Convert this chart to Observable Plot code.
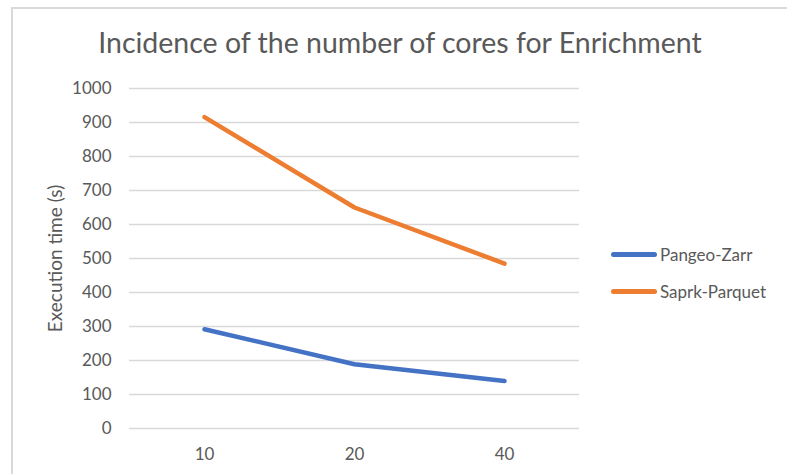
<!DOCTYPE html>
<html>
<head>
<meta charset="utf-8">
<script src="https://cdn.jsdelivr.net/npm/d3@7"></script>
<script src="https://cdn.jsdelivr.net/npm/@observablehq/plot@0.6"></script>
<style>
  html, body { margin: 0; padding: 0; background: #fff; }
  #wrap { position: relative; width: 787px; height: 474px; overflow: hidden; font-family: Lato, "Open Sans", sans-serif; color: #595959; }
  #frame { position: absolute; left: 11px; top: 7px; width: 800px; height: 500px; border-left: 2px solid #D9D9D9; border-top: 2px solid #D9D9D9; box-sizing: border-box; }
  #chart { position: absolute; left: 0; top: 0; }
  #title { position: absolute; left: 0; width: 800px; top: 25px; text-align: center; font-size: 28.5px; line-height: 34px; color: #595959; }
  .leg { position: absolute; left: 611px; display: flex; align-items: center; font-size: 17px; }
  .leg .sw { width: 46px; height: 5px; border-radius: 3px; margin-right: 3px; }
</style>
</head>
<body>
<div id="wrap">
  <div id="frame"></div>
  <div id="chart"></div>
  <div id="title">Incidence of the number of cores for Enrichment</div>
  <div id="legend"></div>
</div>
<script>
const cores = ["10", "20", "40"];
const seriesNames = ["Pangeo-Zarr", "Saprk-Parquet"];
const pangeoZarr = [292, 189, 140];
const saprkParquet = [916, 650, 485];
const colors = ["#4472C4", "#ED7D31"];
const yTicks = [0, 100, 200, 300, 400, 500, 600, 700, 800, 900, 1000];

const data = [];
[pangeoZarr, saprkParquet].forEach((vals, s) => {
  vals.forEach((v, i) => data.push({cores: cores[i], time: v, series: seriesNames[s]}));
});

const chart = Plot.plot({
  width: 787,
  height: 474,
  marginLeft: 129,
  marginRight: 208,
  marginTop: 88,
  marginBottom: 46,
  style: {fontFamily: "Lato, 'Open Sans', sans-serif", fontSize: "17px", color: "#595959", background: "transparent"},
  x: {type: "point", domain: cores, padding: 0.5, label: null},
  y: {domain: [0, 1000], label: null},
  color: {domain: seriesNames, range: colors},
  marks: [
    Plot.gridY(yTicks, {stroke: "#D9D9D9", strokeOpacity: 1, strokeWidth: 1.5}),
    Plot.axisY(yTicks, {tickSize: 0, tickPadding: 18, fontSize: 17, fill: "#595959", label: null, tickFormat: d3.format("d")}),
    Plot.axisX({tickSize: 0, tickPadding: 19, fontSize: 17, fill: "#595959", label: null}),
    Plot.text(["Execution time (s)"], {frameAnchor: "left", dx: -74, rotate: -90, textAnchor: "middle", fontSize: 19, fill: "#595959"}),
    Plot.line(data, {x: "cores", y: "time", z: "series", stroke: "series", strokeWidth: 4.5, strokeLinecap: "round", strokeLinejoin: "round"})
  ]
});
document.getElementById("chart").appendChild(chart);

const legend = document.getElementById("legend");
const legY = [254, 291];
seriesNames.forEach((name, i) => {
  const d = document.createElement("div");
  d.className = "leg";
  d.style.top = (legY[i] - 12) + "px";
  d.style.height = "24px";
  d.innerHTML = `<div class="sw" style="background:${colors[i]}"></div><span>${name}</span>`;
  legend.appendChild(d);
});
</script>
</body>
</html>
